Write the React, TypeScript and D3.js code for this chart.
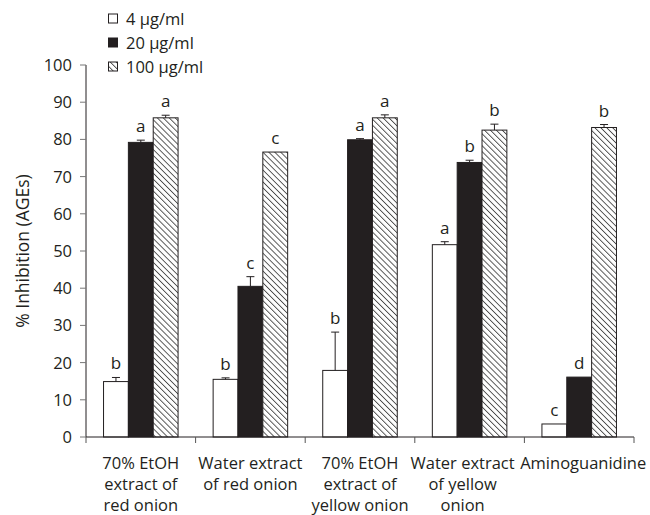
import { useRef, useEffect } from "react";
import * as d3 from "d3";

const categories = [
  ["70% EtOH", "extract of", "red onion"],
  ["Water extract", "of red onion"],
  ["70% EtOH", "extract of", "yellow onion"],
  ["Water extract", "of yellow", "onion"],
  ["Aminoguanidine"],
];

const seriesNames = ["4 µg/ml", "20 µg/ml", "100 µg/ml"];

const values4 = [14.9, 15.5, 17.9, 51.7, 3.5];
const err4 = [1.1, 0.4, 10.3, 0.8, 0];
const letters4 = ["b", "b", "b", "a", "c"];

const values20 = [79.2, 40.5, 79.9, 73.8, 16.1];
const err20 = [0.6, 2.6, 0.3, 0.6, 0];
const letters20 = ["a", "c", "a", "b", "d"];

const values100 = [85.8, 76.6, 85.8, 82.5, 83.2];
const err100 = [0.7, 0, 0.8, 1.6, 0.8];
const letters100 = ["a", "c", "a", "b", "b"];

const yTicks = [0, 10, 20, 30, 40, 50, 60, 70, 80, 90, 100];

const FONT = "'Open Sans', 'Noto Sans', sans-serif";
const INK = "#231f20";

export default function App() {
  const svgRef = useRef<SVGSVGElement>(null);

  useEffect(() => {
    if (!svgRef.current) return;
    const svg = d3.select(svgRef.current);
    svg.selectAll("*").remove();

    const width = 650;
    const height = 515;
    const margin = { left: 86, right: 16, top: 65, bottom: 78 };
    const w = width - margin.left - margin.right;
    const h = height - margin.top - margin.bottom;

    const defs = svg.append("defs");
    const pat = defs
      .append("pattern")
      .attr("id", "hatch")
      .attr("patternUnits", "userSpaceOnUse")
      .attr("width", 4.2)
      .attr("height", 4.2)
      .attr("patternTransform", "rotate(-45)");
    pat.append("rect").attr("width", 4.2).attr("height", 4.2).attr("fill", "#fff");
    pat
      .append("line")
      .attr("x1", 0)
      .attr("y1", 0)
      .attr("x2", 0)
      .attr("y2", 4.2)
      .attr("stroke", "#4a4a4a")
      .attr("stroke-width", 1.8);

    const g = svg.append("g").attr("transform", `translate(${margin.left},${margin.top})`);

    const x = d3
      .scaleBand<number>()
      .domain(d3.range(categories.length))
      .range([0, w])
      .paddingInner(0.32)
      .paddingOuter(0.16);
    const xs = d3.scaleBand<number>().domain([0, 1, 2]).range([0, x.bandwidth()]);
    const y = d3.scaleLinear().domain([0, 100]).range([h, 0]);

    const series = [
      { vals: values4, errs: err4, letters: letters4, fill: "#fff" },
      { vals: values20, errs: err20, letters: letters20, fill: INK },
      { vals: values100, errs: err100, letters: letters100, fill: "url(#hatch)" },
    ];

    series.forEach((s, si) => {
      categories.forEach((_, ci) => {
        const bx = (x(ci) ?? 0) + (xs(si) ?? 0);
        const bw = xs.bandwidth();
        const v = s.vals[ci];
        g.append("rect")
          .attr("x", bx)
          .attr("y", y(v))
          .attr("width", bw)
          .attr("height", h - y(v))
          .attr("fill", s.fill)
          .attr("stroke", INK)
          .attr("stroke-width", 1);
        const top = v + s.errs[ci];
        const cx = bx + bw / 2;
        if (s.errs[ci] > 0) {
          g.append("line")
            .attr("x1", cx)
            .attr("x2", cx)
            .attr("y1", y(v))
            .attr("y2", y(top))
            .attr("stroke", INK)
            .attr("stroke-width", 1);
          g.append("line")
            .attr("x1", cx - 4)
            .attr("x2", cx + 4)
            .attr("y1", y(top))
            .attr("y2", y(top))
            .attr("stroke", INK)
            .attr("stroke-width", 1);
        }
        g.append("text")
          .attr("x", cx)
          .attr("y", y(top) - 8)
          .attr("text-anchor", "middle")
          .attr("font-family", FONT)
          .attr("font-size", 17)
          .attr("fill", INK)
          .text(s.letters[ci]);
      });
    });

    // y axis
    const ya = g.append("g");
    ya.append("line").attr("x1", 0).attr("x2", 0).attr("y1", 0).attr("y2", h).attr("stroke", INK);
    yTicks.forEach((t) => {
      ya.append("line")
        .attr("x1", -6)
        .attr("x2", 0)
        .attr("y1", y(t))
        .attr("y2", y(t))
        .attr("stroke", "#777");
      ya.append("text")
        .attr("x", -14)
        .attr("y", y(t))
        .attr("dy", "0.36em")
        .attr("text-anchor", "end")
        .attr("font-family", FONT)
        .attr("font-size", 16.5)
        .attr("fill", INK)
        .text(t);
    });

    // x axis
    const xa = g.append("g").attr("transform", `translate(0,${h})`);
    xa.append("line").attr("x1", 0).attr("x2", w).attr("stroke", INK);
    d3.range(categories.length + 1).forEach((i) => {
      const tx = (w / categories.length) * i;
      xa.append("line").attr("x1", tx).attr("x2", tx).attr("y1", 0).attr("y2", 6).attr("stroke", "#555");
    });
    // labels nudged apart where the long ones would collide
    const nudge = [0, 0, 0, -7, 4];
    categories.forEach((lines, ci) => {
      const cx = (x(ci) ?? 0) + x.bandwidth() / 2 + nudge[ci];
      lines.forEach((ln, li) => {
        xa.append("text")
          .attr("x", cx)
          .attr("y", 32 + li * 21)
          .attr("text-anchor", "middle")
          .attr("font-family", FONT)
          .attr("font-size", 16.5)
          .attr("fill", INK)
          .text(ln);
      });
    });

    // y label
    svg
      .append("text")
      .attr("transform", `translate(29,${margin.top + h / 2}) rotate(-90)`)
      .attr("text-anchor", "middle")
      .attr("font-family", FONT)
      .attr("font-size", 17.5)
      .attr("fill", INK)
      .text("% Inhibition (AGEs)");

    // legend
    const fills = ["#fff", INK, "url(#hatch)"];
    seriesNames.forEach((name, i) => {
      const ly = 19 + i * 24;
      svg
        .append("rect")
        .attr("x", 108.5)
        .attr("y", ly - 5)
        .attr("width", 9)
        .attr("height", 9)
        .attr("fill", fills[i])
        .attr("stroke", INK);
      svg
        .append("text")
        .attr("x", 126)
        .attr("y", ly)
        .attr("dy", "0.36em")
        .attr("font-family", FONT)
        .attr("font-size", 16.5)
        .attr("fill", INK)
        .text(name);
    });
  }, []);

  return (
    <svg
      ref={svgRef}
      width={650}
      height={515}
      style={{ position: "absolute", left: 0, top: 0, background: "#fff" }}
    />
  );
}
